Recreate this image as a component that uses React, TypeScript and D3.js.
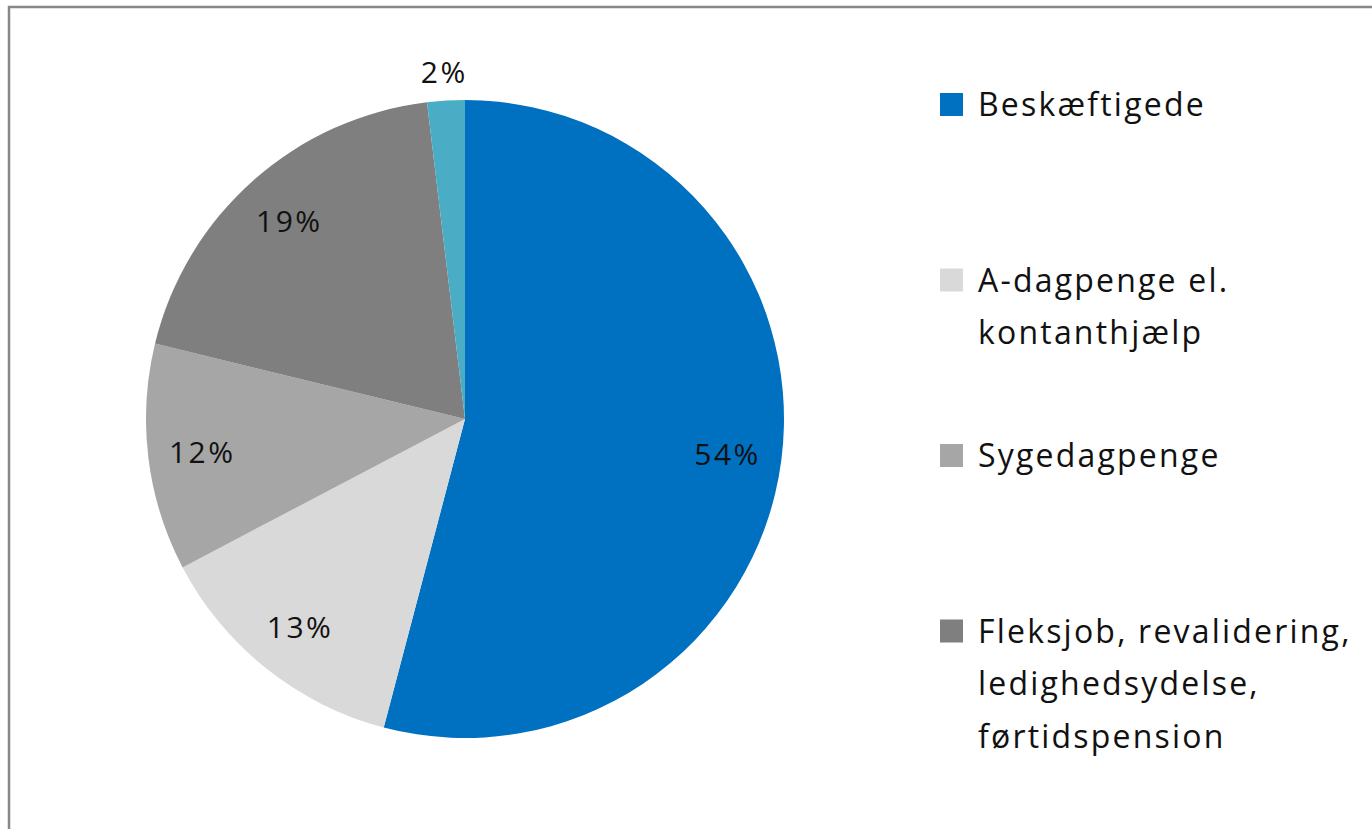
import React from "react";
import * as d3 from "d3";

const categories = [
  "Beskæftigede",
  "A-dagpenge el. kontanthjælp",
  "Sygedagpenge",
  "Fleksjob, revalidering, ledighedsydelse, førtidspension",
  "Øvrige",
];
const values = [54.1, 13.2, 11.5, 19.3, 1.9];
const labels = ["54%", "13%", "12%", "19%", "2%"];
const colors = ["#0070C0", "#D9D9D9", "#A6A6A6", "#7F7F7F", "#4BACC6"];
const legendLines = [
  ["Beskæftigede"],
  ["A-dagpenge el.", "kontanthjælp"],
  ["Sygedagpenge"],
  ["Fleksjob, revalidering,", "ledighedsydelse,", "førtidspension"],
];

const W = 1372;
const H = 829;
const FONT = "'Open Sans', 'Noto Sans', sans-serif";

export default function App() {
  const cx = 465;
  const cy = 419;
  const r = 319;
  const pie = d3.pie<number>().sort(null).value((d) => d);
  const arcs = pie(values);
  const arcGen = d3.arc<d3.PieArcDatum<number>>().innerRadius(0).outerRadius(r);
  const inLabel = d3.arc<d3.PieArcDatum<number>>().innerRadius(r * 0.83).outerRadius(r * 0.83);
  const outLabel = d3.arc<d3.PieArcDatum<number>>().innerRadius(r * 1.09).outerRadius(r * 1.09);

  const legendX = 940;
  const legendTop = 93;
  const legendStep = 175.5;
  const lineStep = 52.5;
  const sq = 23;

  return (
    <svg width={W} height={H} style={{ position: "absolute", left: 0, top: 0, background: "#fff" }}>
      <rect x={9} y={7} width={W + 20} height={H + 20} fill="#fff" stroke="#878787" strokeWidth={2.5} />
      <g transform={`translate(${cx},${cy})`}>
        {arcs.map((a, i) => (
          <path key={categories[i]} d={arcGen(a) || ""} fill={colors[i]} />
        ))}
        {arcs.map((a, i) => {
          const [x, y] = (values[i] < 5 ? outLabel : inLabel).centroid(a);
          return (
            <text
              key={"l" + i}
              x={x}
              y={y}
              textAnchor="middle"
              dominantBaseline="central"
              fontFamily={FONT}
              fontSize={30}
              letterSpacing={2.5}
              fill="#111"
            >
              {labels[i]}
            </text>
          );
        })}
      </g>
      <g>
        {legendLines.map((lines, i) => {
          const top = legendTop + i * legendStep;
          return (
            <g key={"lg" + i}>
              <rect x={legendX} y={top} width={sq} height={sq} fill={colors[i]} />
              {lines.map((t, j) => (
                <text
                  key={j}
                  x={legendX + 38}
                  y={top + sq + j * lineStep}
                  fontFamily={FONT}
                  fontSize={32}
                  letterSpacing={2.2}
                  fill="#111"
                >
                  {t}
                </text>
              ))}
            </g>
          );
        })}
      </g>
    </svg>
  );
}
